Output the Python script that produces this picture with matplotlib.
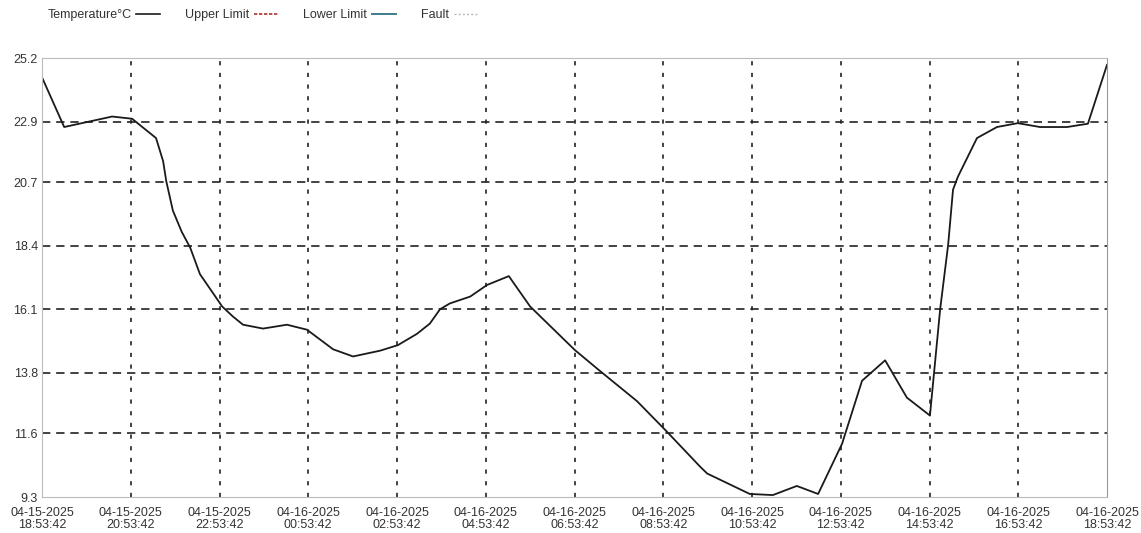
import matplotlib
matplotlib.use("Agg")
import matplotlib.pyplot as plt
from matplotlib.lines import Line2D
from datetime import datetime, timedelta

# ---------------------------------------------------------------
# Data (hours after 04-15-2025 18:53:42, deg C)
# ---------------------------------------------------------------
hours = [0.0, 0.5, 1.58, 2.03, 2.57, 2.73, 2.8, 2.95, 3.15, 3.34, 3.56,
         3.83, 4.06, 4.3, 4.53, 4.98, 5.52, 5.97, 6.56, 7.01, 7.62, 8.02,
         8.45, 8.74, 8.97, 9.19, 9.65, 10.03, 10.52, 11.0, 12.01, 12.57,
         13.41, 14.08, 14.83, 14.99, 15.95, 16.47, 17.01, 17.49, 18.03,
         18.48, 19.0, 19.49, 20.01, 20.24, 20.42, 20.53, 20.64, 21.07,
         21.52, 21.99, 22.49, 23.1, 23.57, 24.0]
temperature = [24.5, 22.7, 23.08, 23.0, 22.3, 21.46, 20.74, 19.67, 18.9,
               18.33, 17.37, 16.74, 16.2, 15.84, 15.54, 15.4, 15.54, 15.36,
               14.65, 14.39, 14.6, 14.8, 15.21, 15.58, 16.1, 16.31, 16.56,
               16.98, 17.3, 16.2, 14.62, 13.87, 12.77, 11.67, 10.4, 10.15,
               9.41, 9.37, 9.7, 9.41, 11.23, 13.51, 14.25, 12.9, 12.25,
               16.1, 18.43, 20.43, 20.9, 22.3, 22.7, 22.84, 22.7, 22.7,
               22.82, 24.95]

y_ticks = [9.3, 11.6, 13.8, 16.1, 18.4, 20.7, 22.9, 25.2]
x_ticks = list(range(0, 25, 2))
start = datetime(2025, 4, 15, 18, 53, 42)
x_labels = [(start + timedelta(hours=h)).strftime("%m-%d-%Y\n%H:%M:%S")
            for h in x_ticks]

plt.rcParams["font.family"] = ["Liberation Sans", "DejaVu Sans"]

fig = plt.figure(figsize=(11.41, 5.33), dpi=100)
ax = fig.add_axes([42 / 1141, 1 - 497 / 533, (1107 - 42) / 1141, (497 - 58) / 533])

ax.plot(hours, temperature, color="#1a1a1a", lw=1.3, label="Temperature°C")

ax.set_xlim(0, 24)
ax.set_ylim(9.3, 25.2)
ax.set_xticks(x_ticks)
ax.set_xticklabels(x_labels, linespacing=1.0)
ax.set_yticks(y_ticks)
ax.set_yticklabels([f"{v:.1f}" for v in y_ticks])
ax.tick_params(length=0, labelsize=9, labelcolor="#333333")
ax.tick_params(axis="x", pad=7)
ax.tick_params(axis="y", pad=3)

# dashed grid, inner lines only
for v in y_ticks[1:-1]:
    ax.axhline(v, color="#222222", lw=1.2, ls=(0, (5, 3.5)), zorder=1)
for h in x_ticks[1:-1]:
    ax.axvline(h, color="#222222", lw=1.2, ls=(0, (2.5, 4.5)), zorder=1)

for side in ["top", "bottom", "left"]:
    ax.spines[side].set_color("#bbbbbb")
ax.spines["right"].set_color("#999999")

handles = [
    Line2D([], [], color="#1a1a1a", lw=1.2),
    Line2D([], [], color="#b03030", lw=1.2, ls=(0, (2, 1))),
    Line2D([], [], color="#3f7c8c", lw=1.4),
    Line2D([], [], color="#bbbbbb", lw=1.0, ls=(0, (1.5, 1.5))),
]
labels = ["Temperature°C", "Upper Limit", "Lower Limit", "Fault"]
fig.legend(handles, labels, loc="center left", bbox_to_anchor=(36 / 1141, 1 - 15 / 533),
           ncol=4, frameon=False, markerfirst=False, fontsize=9,
           handlelength=1.9, handletextpad=0.4, columnspacing=2.0,
           labelcolor="#333333")

fig.savefig("out.png", dpi=100)
